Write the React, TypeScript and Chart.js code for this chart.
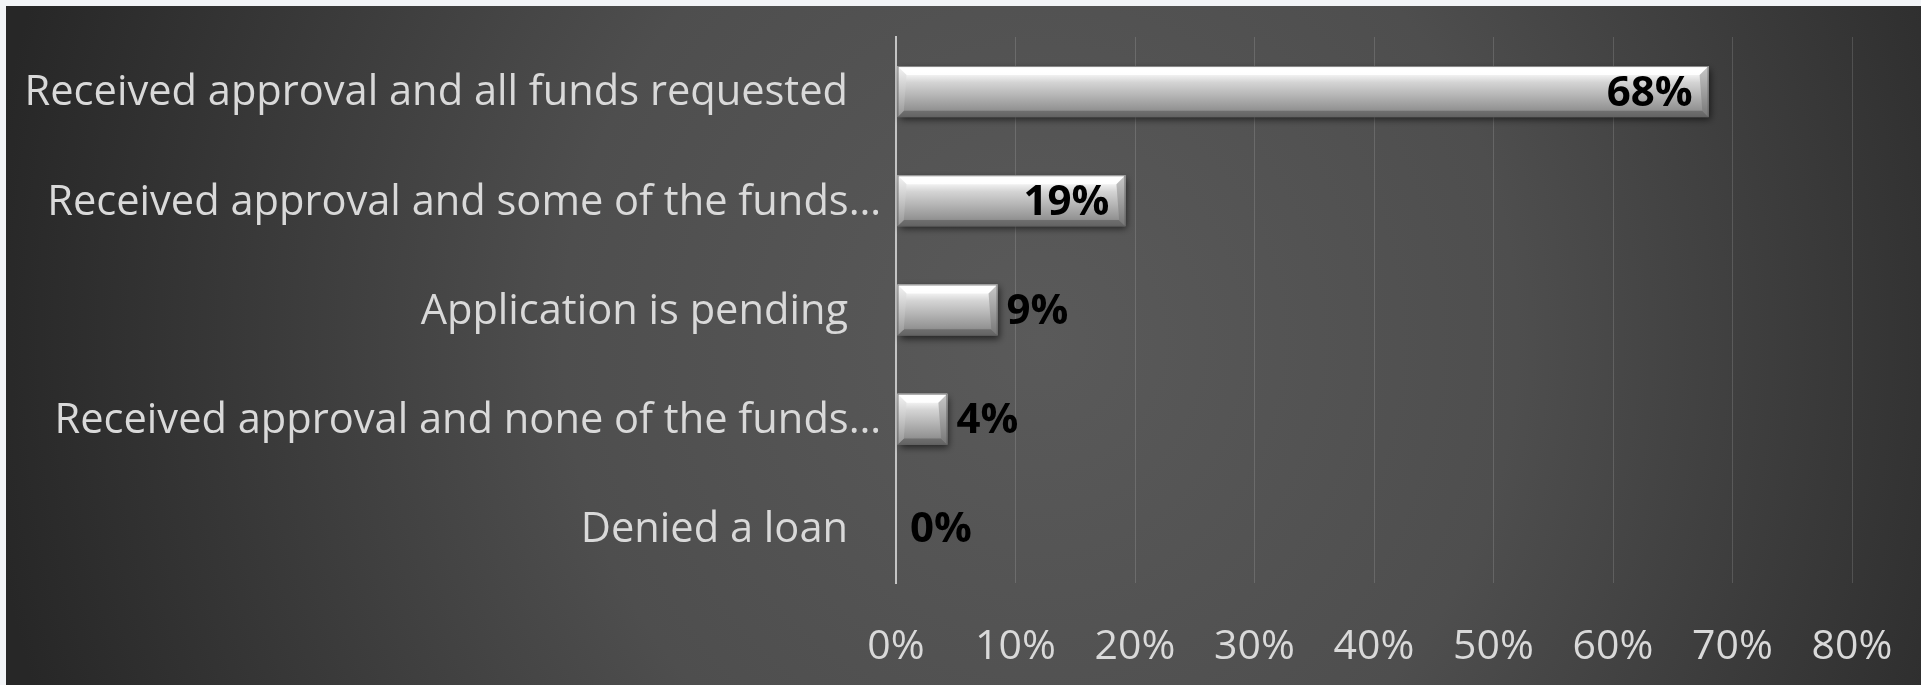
import React, { useEffect, useRef } from "react";
import { Chart, registerables } from "chart.js";

Chart.register(...registerables);

// ---- data ----
const categories: string[] = [
  "Received approval and all funds requested",
  "Received approval and some of the funds…",
  "Application is pending",
  "Received approval and none of the funds…",
  "Denied a loan",
];
const truncated: boolean[] = [false, true, false, true, false];
const values: number[] = [68, 19.2, 8.5, 4.3, 0];
const tickLabels: string[] = ["0%", "10%", "20%", "30%", "40%", "50%", "60%", "70%", "80%"];
const axisMin = 0;
const axisMax = 80;
const axisStep = 10;

const FONT = "'Open Sans', Lato, sans-serif";
const CAT_SIZE = 41.6;
const TICK_SIZE = 41;
const LABEL_SIZE = 42;

const decorPlugin = {
  id: "decor",
  beforeDraw(chart: any) {
    const { ctx, width, height } = chart;
    ctx.save();
    ctx.fillStyle = "#f2f4f7";
    ctx.fillRect(0, 0, width, height);
    const cx = 1040;
    const cy = 340;
    const sy = 1.05;
    ctx.translate(cx, cy);
    ctx.scale(1, sy);
    const g = ctx.createRadialGradient(0, 0, 0, 0, 0, 1060);
    g.addColorStop(0, "#5a5a5a");
    g.addColorStop(0.45, "#4e4e4e");
    g.addColorStop(1, "#272727");
    ctx.fillStyle = g;
    ctx.fillRect(6 - cx, (6 - cy) / sy, width, height / sy);
    ctx.restore();
  },
  afterDatasetsDraw(chart: any) {
    const { ctx } = chart;
    const meta = chart.getDatasetMeta(0);
    meta.data.forEach((el: any, i: number) => {
      const v = values[i];
      if (!v) return;
      const x0 = Math.min(el.base, el.x) + 1;
      const x1 = Math.max(el.base, el.x);
      const y0 = el.y - el.height / 2;
      const y1 = el.y + el.height / 2;
      const w = x1 - x0;
      const h = y1 - y0;
      const b = Math.min(9, w / 2, h / 2);
      ctx.save();
      ctx.shadowColor = "rgba(0,0,0,0.6)";
      ctx.shadowBlur = 7;
      ctx.shadowOffsetX = 2;
      ctx.shadowOffsetY = 3;
      const g = ctx.createLinearGradient(0, y0, 0, y1);
      g.addColorStop(0, "#eeeeee");
      g.addColorStop(0.06, "#ffffff");
      g.addColorStop(0.18, "#f0f0f0");
      g.addColorStop(0.32, "#d4d4d4");
      g.addColorStop(0.6, "#b2b2b2");
      g.addColorStop(0.85, "#939393");
      g.addColorStop(1, "#777777");
      ctx.fillStyle = g;
      ctx.fillRect(x0, y0, w, h);
      ctx.restore();
      ctx.save();
      // top bevel
      ctx.beginPath();
      ctx.moveTo(x0, y0);
      ctx.lineTo(x1, y0);
      ctx.lineTo(x1 - b, y0 + b);
      ctx.lineTo(x0 + b, y0 + b);
      ctx.closePath();
      ctx.fillStyle = "rgba(255,255,255,0.9)";
      ctx.fill();
      // bottom bevel
      ctx.beginPath();
      ctx.moveTo(x0, y1);
      ctx.lineTo(x1, y1);
      ctx.lineTo(x1 - b * 0.7, y1 - b * 0.7);
      ctx.lineTo(x0 + b * 0.7, y1 - b * 0.7);
      ctx.closePath();
      ctx.fillStyle = "rgba(80,80,80,0.5)";
      ctx.fill();
      // right bevel
      const gr = ctx.createLinearGradient(0, y0, 0, y1);
      gr.addColorStop(0, "#c8c8c8");
      gr.addColorStop(1, "#767676");
      ctx.beginPath();
      ctx.moveTo(x1, y0);
      ctx.lineTo(x1, y1);
      ctx.lineTo(x1 - b * 0.7, y1 - b * 0.7);
      ctx.lineTo(x1 - b, y0 + b);
      ctx.closePath();
      ctx.fillStyle = gr;
      ctx.fill();
      // left bevel
      const gl = ctx.createLinearGradient(0, y0, 0, y1);
      gl.addColorStop(0, "#f5f5f5");
      gl.addColorStop(1, "#969696");
      ctx.beginPath();
      ctx.moveTo(x0, y0);
      ctx.lineTo(x0, y1);
      ctx.lineTo(x0 + b * 0.7, y1 - b * 0.7);
      ctx.lineTo(x0 + b, y0 + b);
      ctx.closePath();
      ctx.fillStyle = gl;
      ctx.fill();
      ctx.strokeStyle = "rgba(100,100,100,0.8)";
      ctx.lineWidth = 1;
      ctx.strokeRect(x0 + 0.5, y0 + 0.5, w - 1, h - 1);
      ctx.restore();
    });
  },
  afterDraw(chart: any) {
    const { ctx, chartArea } = chart;
    const yScale = chart.scales.y;
    const xScale = chart.scales.x;
    ctx.save();
    ctx.font = `${CAT_SIZE}px ${FONT}`;
    ctx.fillStyle = "#d9d9d9";
    ctx.textAlign = "right";
    ctx.textBaseline = "middle";
    categories.forEach((c, i) => {
      const y = yScale.getPixelForValue(i) + 2;
      const x = chartArea.left - (truncated[i] ? 15 : 48);
      ctx.fillText(c, x, y);
    });
    ctx.font = `bold ${LABEL_SIZE}px ${FONT}`;
    ctx.fillStyle = "#000000";
    values.forEach((v, i) => {
      const text = `${Math.round(v)}%`;
      const y = yScale.getPixelForValue(i) + 2;
      const xEnd = xScale.getPixelForValue(v);
      const tw = ctx.measureText(text).width;
      const barW = xEnd - xScale.getPixelForValue(0);
      if (barW > tw * 2) {
        ctx.textAlign = "right";
        ctx.fillText(text, xEnd - 16, y);
      } else {
        ctx.textAlign = "left";
        ctx.fillText(text, xEnd + (v === 0 ? 14 : 9), y);
      }
    });
    ctx.restore();
  },
};

export default function App() {
  const ref = useRef<HTMLCanvasElement | null>(null);
  useEffect(() => {
    if (!ref.current) return;
    const chart = new Chart(ref.current, {
      type: "bar",
      data: {
        labels: categories,
        datasets: [
          {
            data: values,
            backgroundColor: "rgba(0,0,0,0)",
            borderWidth: 0,
            barPercentage: 0.9,
            categoryPercentage: 0.52,
          },
        ],
      },
      options: {
        indexAxis: "y",
        animation: false,
        responsive: false,
        devicePixelRatio: 1,
        layout: { padding: { top: 37, right: 69, bottom: 0, left: 0 } },
        plugins: { legend: { display: false }, tooltip: { enabled: false } },
        scales: {
          x: {
            min: axisMin,
            max: axisMax,
            ticks: {
              stepSize: axisStep,
              color: "#d9d9d9",
              font: { family: FONT, size: TICK_SIZE },
              padding: 40,
              maxRotation: 0,
              callback: (_v: any, idx: number) => tickLabels[idx],
            },
            grid: { color: "rgba(255,255,255,0.14)", lineWidth: 1, drawTicks: false },
            border: { display: false },
            afterFit: (s: any) => {
              s.height = 102;
              s.paddingLeft = 0;
              s.paddingRight = 0;
            },
          },
          y: {
            ticks: { display: false },
            grid: { display: false, drawTicks: false },
            border: { display: true, color: "#c4c4c4", width: 2 },
            afterFit: (s: any) => {
              s.width = 896;
            },
          },
        },
      } as any,
      plugins: [decorPlugin],
    });
    return () => chart.destroy();
  }, []);
  return (
    <div style={{ position: "fixed", left: 0, top: 0, width: 1921, height: 685 }}>
      <canvas ref={ref} width={1921} height={685} style={{ display: "block" }} />
    </div>
  );
}
